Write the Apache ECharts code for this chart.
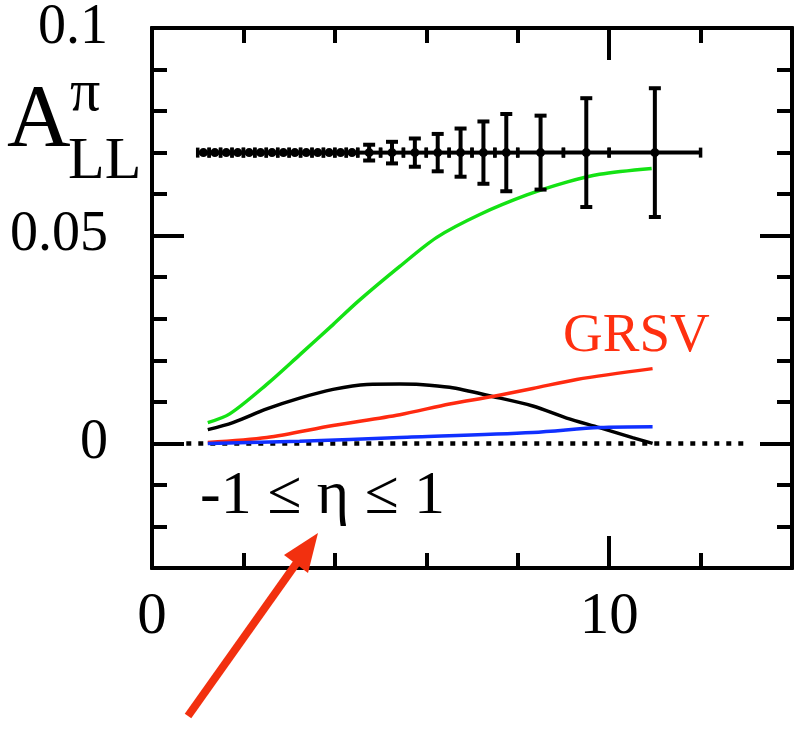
<!DOCTYPE html>
<html>
<head>
<meta charset="utf-8">
<script src="https://cdn.jsdelivr.net/npm/echarts@6/dist/echarts.min.js"></script>
<style>html,body{margin:0;padding:0;background:#fff;}#c{width:796px;height:730px;}</style>
</head>
<body>
<div id="c"></div>
<script>
// ---- data ----
var binCenters = [1.125,1.375,1.625,1.875,2.125,2.375,2.625,2.875,3.125,3.375,3.625,3.875,4.125,4.375,4.75,5.25,5.75,6.25,6.75,7.25,7.75,8.5,9.5,11];
var binLow     = [1.0,1.25,1.5,1.75,2.0,2.25,2.5,2.75,3.0,3.25,3.5,3.75,4.0,4.25,4.5,5.0,5.5,6.0,6.5,7.0,7.5,8.0,9.0,10.0];
var binHigh    = [1.25,1.5,1.75,2.0,2.25,2.5,2.75,3.0,3.25,3.5,3.75,4.0,4.25,4.5,5.0,5.5,6.0,6.5,7.0,7.5,8.0,9.0,10.0,12.0];
var pointA     = [0.07,0.07,0.07,0.07,0.07,0.07,0.07,0.07,0.07,0.07,0.07,0.07,0.07,0.07,0.07,0.07,0.07,0.07,0.07,0.07,0.07,0.07,0.07,0.07];
var pointErr   = [0,0,0,0,0,0,0,0,0,0,0,0,0,0,0.0019,0.0026,0.0034,0.0045,0.0058,0.0075,0.0093,0.0089,0.0131,0.0155];

var greenX = [1.22,1.70,2.51,3.23,3.96,4.52,5.42,6.23,7.17,8.20,9.07,9.79,10.93];
var greenY = [0.0050,0.0071,0.0142,0.0213,0.0286,0.0343,0.0426,0.0496,0.0551,0.0598,0.0629,0.0648,0.0662];
var blackX = [1.22,1.77,2.51,3.23,3.96,4.70,5.42,5.86,6.51,7.45,8.33,9.07,9.79,10.51,10.95];
var blackY = [0.0033,0.0050,0.0083,0.0109,0.0130,0.0142,0.0143,0.0142,0.0135,0.0113,0.0090,0.0061,0.0038,0.0014,0.0];
var redX   = [1.22,2.51,3.96,5.42,6.51,7.45,8.33,9.29,10.95];
var redY   = [0.0002,0.0014,0.0043,0.0069,0.0095,0.0113,0.0132,0.0154,0.0180];
var blueX  = [1.22,3.23,5.42,8.33,9.79,10.95];
var blueY  = [0.0,0.0005,0.0014,0.0026,0.0038,0.0040];
var zeroLineX = [0.75,13.0];

var xMajorTicks = [0,10];
var yMajorTicks = [0,0.05,0.1];

function pairs(xs, ys){ return xs.map(function(x,i){ return [x, ys[i]]; }); }

var pts = binCenters.map(function(x,i){ return [x, pointA[i], binLow[i], binHigh[i], pointErr[i]]; });

var FONT = '"Liberation Serif", "Times New Roman", serif';
var axisLineStyle = {color:'#000', width:4};
var tickStyle = {color:'#000', width:4};

function xAx(pos, major){
  return {
    type:'value', min:0, max:14, position:pos, interval: 2,
    axisLine:{show:true, onZero:false, lineStyle:axisLineStyle},
    axisTick: major ? {show:true, inside:true, length:32, customValues:xMajorTicks, lineStyle:tickStyle}
                    : {show:true, inside:true, length:15, lineStyle:tickStyle},
    axisLabel: (major && pos==='bottom') ? {show:true, customValues:xMajorTicks, fontFamily:FONT, fontSize:59, color:'#000', margin:20}
                                         : {show:false},
    splitLine:{show:false}
  };
}
function yAx(pos, major){
  return {
    type:'value', min:-0.03, max:0.1, position:pos, interval:0.01,
    axisLine:{show:true, onZero:false, lineStyle:axisLineStyle},
    axisTick: major ? {show:true, inside:true, length:32, customValues:yMajorTicks, lineStyle:tickStyle}
                    : {show:true, inside:true, length:15, lineStyle:tickStyle},
    axisLabel: (major && pos==='left') ? {show:true, customValues:yMajorTicks, fontFamily:FONT, fontSize:56, color:'#000', margin:44,
                    formatter:function(v){ return String(+v.toFixed(3)); }}
                                       : {show:false},
    splitLine:{show:false}
  };
}

var chart = echarts.init(document.getElementById('c'), null, {renderer:'canvas'});

function curve(xs, ys, color){
  return {type:'line', data:pairs(xs,ys), showSymbol:false, smooth:0.3, z:3,
          lineStyle:{color:color, width:3.5}, silent:true, animation:false};
}

var option = {
  animation:false,
  backgroundColor:'#fff',
  grid:{left:152, right:4, top:21, bottom:162, containLabel:false},
  xAxis:[xAx('bottom',true), xAx('bottom',false), xAx('top',true), xAx('top',false)],
  yAxis:[yAx('left',true), yAx('left',false), yAx('right',true), yAx('right',false)],
  series:[
    {type:'line', data:zeroLineX.map(function(x){return [x,0];}), showSymbol:false, z:2,
     lineStyle:{color:'#000', width:4.5, type:[5,7]}, silent:true},
    curve(greenX, greenY, '#14e214'),
    curve(blackX, blackY, '#000000'),
    curve(redX, redY, '#ff2a10'),
    curve(blueX, blueY, '#1030ff'),
    {type:'custom', data:pts, z:5, silent:true,
     renderItem:function(params, api){
       var x=api.value(0), y=api.value(1), xl=api.value(2), xh=api.value(3), e=api.value(4);
       var p=api.coord([x,y]), pl=api.coord([xl,y]), ph=api.coord([xh,y]);
       var st={stroke:'#000', lineWidth:4};
       var ch=[
         {type:'line', shape:{x1:pl[0], y1:pl[1], x2:ph[0], y2:ph[1]}, style:st},
         {type:'line', shape:{x1:pl[0], y1:pl[1]-5, x2:pl[0], y2:pl[1]+5}, style:{stroke:'#000', lineWidth:3.5}},
         {type:'line', shape:{x1:ph[0], y1:ph[1]-5, x2:ph[0], y2:ph[1]+5}, style:{stroke:'#000', lineWidth:3.5}}
       ];
       if(e>0){
         var pt=api.coord([x,y+e]), pb=api.coord([x,y-e]);
         ch.push({type:'line', shape:{x1:pt[0], y1:pt[1], x2:pb[0], y2:pb[1]}, style:st});
         ch.push({type:'line', shape:{x1:pt[0]-6, y1:pt[1], x2:pt[0]+6, y2:pt[1]}, style:st});
         ch.push({type:'line', shape:{x1:pb[0]-6, y1:pb[1], x2:pb[0]+6, y2:pb[1]}, style:st});
       }
       ch.push({type:'circle', shape:{cx:p[0], cy:p[1], r:4.5}, style:{fill:'#000'}});
       return {type:'group', children:ch};
     }}
  ],
  graphic:[
    {type:'text', x:7, y:122, z:10, style:{text:'A', font:'88px "Liberation Serif"', fill:'#000', verticalAlign:'middle'}},
    {type:'text', x:68, y:162, z:10, style:{text:'LL', font:'60px "Liberation Serif"', fill:'#000', verticalAlign:'middle'}},
    {type:'text', x:70, y:94, z:10, style:{text:'π', font:'60px "Liberation Serif"', fill:'#000', verticalAlign:'middle'}},
    {type:'text', x:563, y:337, z:10, style:{text:'GRSV', font:'55px "Liberation Serif"', fill:'#ff3010', verticalAlign:'middle'}},
    {type:'text', x:200, y:497, z:10, style:{text:'-1 ≤ η ≤ 1', font:'62px "Liberation Serif"', fill:'#000', verticalAlign:'middle'}},
    {type:'line', z:10, shape:{x1:188, y1:716, x2:298, y2:561}, style:{stroke:'#f2300f', lineWidth:8}},
    {type:'polygon', z:10, shape:{points:[[318,533],[308,573],[284,555]]}, style:{fill:'#f2300f'}}
  ]
};
chart.setOption(option);
</script>
</body>
</html>
